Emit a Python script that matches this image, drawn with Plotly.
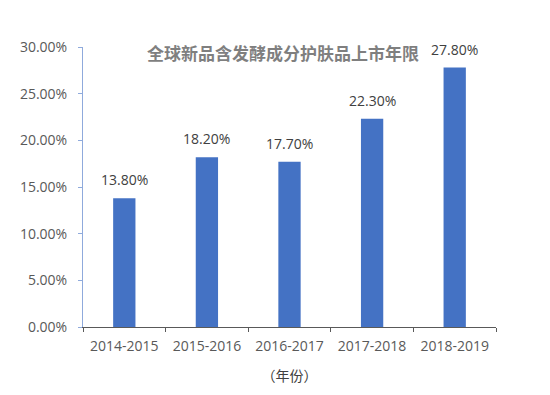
import plotly.graph_objects as go

categories = ["2014-2015", "2015-2016", "2016-2017", "2017-2018", "2018-2019"]
values = [0.138, 0.182, 0.177, 0.223, 0.278]
labels = ["13.80%", "18.20%", "17.70%", "22.30%", "27.80%"]
title = "全球新品含发酵成分护肤品上市年限"
xtitle = "（年份）"

font = "Open Sans, Noto Sans CJK SC"

fig = go.Figure(go.Bar(
    x=categories, y=values,
    marker=dict(color="#4472C4", line=dict(width=0)),
    width=0.27,
))

annotations = [dict(text="<b>" + title + "</b>", x=0.485, xref="paper", y=0.98, yref="paper",
                    yanchor="middle", showarrow=False,
                    font=dict(size=17, color="#7F7F7F", family="Noto Sans CJK SC"))]
for c, v, t in zip(categories, values, labels):
    annotations.append(dict(x=c, y=v, xref="x", yref="y", text=t, showarrow=False,
                            yanchor="bottom", yshift=7,
                            font=dict(size=14, color="#404040", family=font)))

fig.update_layout(
    width=550, height=395,
    margin=dict(l=69, r=62, t=39, b=76),
    paper_bgcolor="white", plot_bgcolor="white",
    showlegend=False,
    font=dict(family=font, size=14, color="#595959"),
    annotations=annotations,
)
fig.update_xaxes(
    showline=True, linecolor="#595959", linewidth=1,
    ticks="outside", tickson="boundaries", ticklen=4, tickcolor="#595959",
    ticklabelstandoff=6,
    tickfont=dict(size=14, color="#595959"),
    title=dict(text=xtitle, font=dict(size=14, color="#404040", family="Noto Sans CJK SC"), standoff=17),
    showgrid=False,
)
fig.update_yaxes(
    range=[0, 0.30], dtick=0.05, tickformat=".2%",
    showline=True, linecolor="#8FAADC", linewidth=1,
    ticks="outside", ticklen=4, tickcolor="#8FAADC",
    ticklabelstandoff=8,
    tickfont=dict(size=14, color="#595959"),
    showgrid=False, zeroline=False,
)

fig.write_html("out.html")
